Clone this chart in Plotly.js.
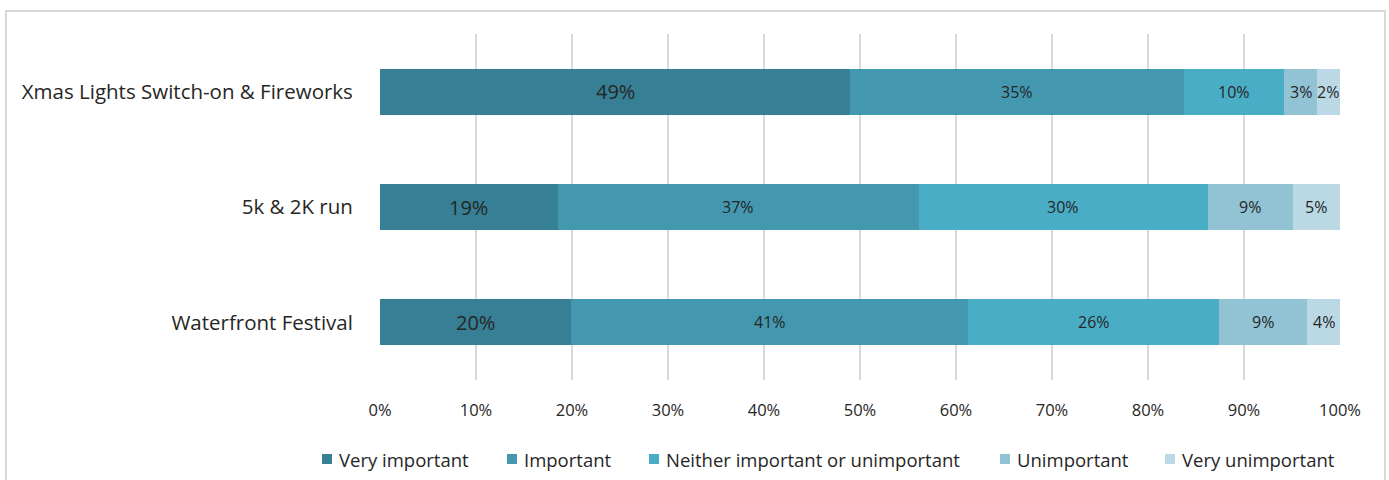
<!DOCTYPE html>
<html>
<head>
<meta charset="utf-8">
<script src="https://cdn.plot.ly/plotly-3.0.1.min.js"></script>
<style>
html,body{margin:0;padding:0;background:#fff;}
#wrap{position:relative;width:1389px;height:480px;overflow:hidden;}
#chart{width:1389px;height:480px;}
#frame{position:absolute;left:5px;top:10px;width:1377px;height:500px;border:2px solid #d9d9d9;pointer-events:none;}
</style>
</head>
<body>
<div id="wrap"><div id="chart"></div><div id="frame"></div></div>
<script>
const categories = ["Xmas Lights Switch-on & Fireworks", "5k & 2K run", "Waterfront Festival"];
const seriesNames = ["Very important", "Important", "Neither important or unimportant", "Unimportant", "Very unimportant"];
const veryImportant = [49.0, 18.5, 19.9];
const important = [34.8, 37.6, 41.4];
const neither = [10.4, 30.1, 26.1];
const unimportant = [3.4, 8.9, 9.2];
const veryUnimportant = [2.4, 4.9, 3.4];
const veryImportantLabels = ["49%", "19%", "20%"];
const importantLabels = ["35%", "37%", "41%"];
const neitherLabels = ["10%", "30%", "26%"];
const unimportantLabels = ["3%", "9%", "9%"];
const veryUnimportantLabels = ["2%", "5%", "4%"];
const tickVals = [0,10,20,30,40,50,60,70,80,90,100];
const tickText = ["0%","10%","20%","30%","40%","50%","60%","70%","80%","90%","100%"];

const colors = ["#367F94", "#4398B0", "#4AADC6", "#91C3D5", "#BBD9E4"];
const values = [veryImportant, important, neither, unimportant, veryUnimportant];
const labels = [veryImportantLabels, importantLabels, neitherLabels, unimportantLabels, veryUnimportantLabels];
const font = "'Open Sans', Lato, sans-serif";

// plot area geometry (pixels)
const W = 1389, H = 480;
const M = {l: 380, r: 49, t: 34, b: 100};
const PW = W - M.l - M.r, PH = H - M.t - M.b;
const px2x = p => (p - M.l) / PW;
const py2y = p => (H - M.b - p) / PH;

const traces = seriesNames.map((name, i) => ({
  type: 'bar',
  orientation: 'h',
  name: name,
  y: categories,
  x: values[i],
  marker: {color: colors[i], line: {width: 0}},
  width: 0.4,
  hoverinfo: 'none',
  showlegend: false
}));

// labels centred on each segment, positioned through the data axes
const annotations = [];
categories.forEach((cat, c) => {
  let cum = 0;
  values.forEach((vals, i) => {
    const v = vals[c];
    annotations.push({
      x: cum + v / 2, y: cat, xref: 'x', yref: 'y',
      text: labels[i][c], showarrow: false,
      xanchor: 'center', yanchor: 'middle',
      font: {family: font, size: i === 0 ? 20 : 16, color: '#262626'}
    });
    cum += v;
  });
});

// legend (drawn as shapes + text)
const legendSquareLeft = [322, 507, 649, 1000, 1165];
const legendY = 459;
const shapes = [];
seriesNames.forEach((name, i) => {
  const x0 = legendSquareLeft[i];
  shapes.push({
    type: 'rect', xref: 'paper', yref: 'paper',
    x0: px2x(x0), x1: px2x(x0 + 10), y0: py2y(legendY + 5), y1: py2y(legendY - 5),
    fillcolor: colors[i], line: {width: 0}
  });
  annotations.push({
    xref: 'paper', yref: 'paper', x: px2x(x0 + 15), y: py2y(legendY),
    xanchor: 'left', yanchor: 'middle', showarrow: false,
    text: name, font: {family: font, size: 18.5, color: '#262626'}
  });
});

const layout = {
  width: W, height: H,
  margin: M,
  barmode: 'stack',
  paper_bgcolor: '#ffffff',
  plot_bgcolor: '#ffffff',
  font: {family: font, color: '#262626'},
  showlegend: false,
  annotations: annotations,
  shapes: shapes,
  xaxis: {
    range: [0, 100], tickmode: 'array', tickvals: tickVals, ticktext: tickText,
    showgrid: true, gridcolor: '#d9d9d9', gridwidth: 2,
    zeroline: false, showline: false,
    ticks: 'outside', ticklen: 15, tickcolor: 'rgba(0,0,0,0)',
    tickfont: {family: font, size: 16.5, color: '#262626'},
    fixedrange: true, automargin: false
  },
  yaxis: {
    autorange: 'reversed', type: 'category',
    showgrid: false, zeroline: false, showline: false,
    ticks: 'outside', ticklen: 22, tickcolor: 'rgba(0,0,0,0)',
    tickfont: {family: font, size: 20.5, color: '#262626'},
    fixedrange: true, automargin: false
  }
};

Plotly.newPlot('chart', traces, layout, {displayModeBar: false, staticPlot: true});
</script>
</body>
</html>
